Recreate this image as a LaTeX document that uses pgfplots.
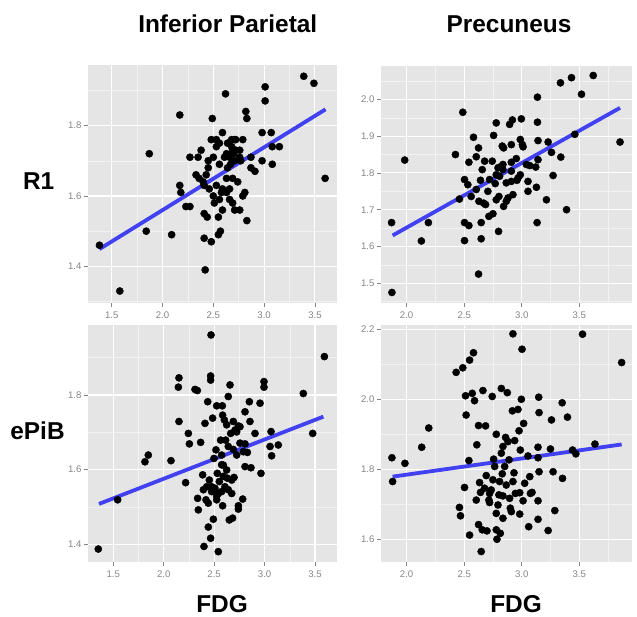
\documentclass[border=0pt]{standalone}
\usepackage{fontspec}
\setmainfont{Liberation Sans}
\usepackage{pgfplots}
\pgfplotsset{compat=1.18}

\definecolor{panelbg}{HTML}{E5E5E5}
\definecolor{minorgrid}{HTML}{F2F2F2}
\definecolor{tickgrey}{HTML}{858585}
\definecolor{fitblue}{HTML}{4141F2}

\pgfplotsset{
  panel/.style={
    scale only axis,
    anchor=south west,
    axis background/.style={fill=panelbg},
    axis line style={draw=none},
    grid=both,
    major grid style={white, line width=1.1pt},
    minor grid style={minorgrid, line width=0.5pt},
    tick align=outside,
    major tick length=4pt,
    minor tick length=0pt,
    xtick pos=bottom, ytick pos=left,
    tick style={tickgrey, line width=0.7pt},
    ticklabel style={font=\fontsize{9.6}{10}\selectfont, text=tickgrey},
    xticklabel style={yshift=-1pt},
    yticklabel style={xshift=1pt},
    /pgf/number format/fixed,
    /pgf/number format/fixed zerofill,
    /pgf/number format/precision=1,
    /pgf/number format/assume math mode=true,
  },
  dots/.style={only marks, mark=*, mark size=3.6pt, black},
  fit/.style={fitblue, line width=3.8pt, no marks},
}

\newcommand{\bigfont}{\fontsize{24.4}{28}\selectfont\bfseries}

\begin{document}
\begin{tikzpicture}[x=1pt,y=1pt]
\useasboundingbox (0,0) rectangle (637,617);

% top left: Inferior Parietal, R1
\begin{axis}[panel, at={(88pt,314pt)}, width=249pt, height=238pt,
  xmin=1.267, xmax=3.717, ymin=1.296, ymax=1.972,
  xtick={1.5,2,2.5,3,3.5}, minor xtick={1.75,2.25,2.75,3.25},
  ytick={1.4,1.6,1.8}, minor ytick={1.3,1.5,1.7,1.9}]
\addplot[dots] coordinates {
(1.38,1.46)(1.58,1.33)(1.84,1.50)(1.87,1.72)(2.09,1.49)(2.17,1.83)(2.17,1.63)
(2.18,1.61)(2.23,1.57)(2.27,1.57)(2.27,1.71)(2.33,1.66)(2.35,1.71)(2.38,1.73)
(2.36,1.65)(2.40,1.64)(2.41,1.63)(2.41,1.55)(2.44,1.54)(2.41,1.48)(2.42,1.39)
(2.45,1.70)(2.43,1.66)(2.46,1.62)(2.48,1.47)(2.48,1.76)(2.49,1.82)(2.50,1.71)
(2.50,1.60)(2.51,1.58)(2.53,1.63)(2.55,1.54)(2.55,1.49)(2.57,1.50)(2.53,1.76)
(2.56,1.75)(2.59,1.78)(2.62,1.89)(2.56,1.69)(2.58,1.61)(2.59,1.62)(2.61,1.71)
(2.63,1.72)(2.64,1.68)(2.63,1.61)(2.66,1.62)(2.68,1.76)(2.69,1.73)(2.71,1.70)
(2.68,1.74)(2.72,1.76)(2.69,1.58)(2.71,1.56)(2.76,1.56)(2.69,1.65)(2.74,1.64)
(2.76,1.73)(2.79,1.76)(2.77,1.70)(2.66,1.71)(2.76,1.71)(2.81,1.61)(2.79,1.60)
(2.82,1.84)(2.83,1.82)(2.83,1.53)(2.87,1.71)(2.87,1.68)(2.91,1.67)(2.98,1.78)
(2.98,1.70)(3.01,1.91)(3.01,1.87)(3.07,1.78)(3.08,1.74)(3.08,1.69)(3.15,1.74)
(3.39,1.94)(3.49,1.92)(3.60,1.65)(2.53,1.74)(2.45,1.68)(2.63,1.65)(2.56,1.59)
(2.59,1.56)(2.66,1.59)(2.71,1.76)(2.64,1.75)(2.72,1.73)(2.70,1.72)(2.67,1.69)
};
\addplot[fit] coordinates {(1.379,1.449)(3.604,1.846)};
\end{axis}

% top right: Precuneus, R1
\begin{axis}[panel, at={(381pt,314pt)}, width=251pt, height=237pt,
  xmin=1.777, xmax=3.959, ymin=1.4464, ymax=2.0908,
  xtick={2,2.5,3,3.5}, minor xtick={2.25,2.75,3.25,3.75},
  ytick={1.5,1.6,1.7,1.8,1.9,2.0}, minor ytick={1.45,1.55,1.65,1.75,1.85,1.95,2.05}]
\addplot[dots] coordinates {
(1.869,1.665)(1.872,1.475)(1.983,1.835)(2.128,1.615)(2.189,1.665)(2.424,1.850)
(2.459,1.729)(2.488,1.965)(2.503,1.782)(2.503,1.665)(2.503,1.616)(2.532,1.768)
(2.541,1.829)(2.541,1.657)(2.561,1.736)(2.581,1.897)(2.605,1.844)(2.605,1.755)
(2.625,1.868)(2.625,1.525)(2.628,1.723)(2.642,1.780)(2.648,1.665)(2.648,1.621)
(2.657,1.809)(2.669,1.718)(2.678,1.832)(2.686,1.714)(2.706,1.750)(2.715,1.682)
(2.744,1.832)(2.756,1.902)(2.750,1.689)(2.770,1.771)(2.779,1.936)(2.779,1.795)
(2.794,1.814)(2.799,1.641)(2.802,1.736)(2.808,1.791)(2.823,1.818)(2.831,1.873)
(2.837,1.823)(2.843,1.868)(2.843,1.709)(2.866,1.723)(2.881,1.732)(2.895,1.932)
(2.910,1.829)(2.910,1.877)(2.910,1.805)(2.910,1.777)(2.919,1.944)(2.924,1.741)
(2.953,1.839)(2.959,1.780)(2.968,1.786)(2.988,1.795)(2.988,1.891)(2.997,1.947)
(3.006,1.877)(3.012,1.871)(3.041,1.823)(3.055,1.777)(3.055,1.750)(3.070,1.820)
(3.122,1.816)(3.128,1.761)(3.134,1.665)(3.137,2.006)(3.137,1.938)(3.142,1.888)
(3.142,1.836)(3.215,1.727)(3.230,1.884)(3.259,1.856)(3.273,1.793)(3.337,2.045)
(3.340,1.843)(3.390,1.700)(3.433,2.059)(3.462,1.905)(3.520,2.014)(3.622,2.065)
(3.855,1.884)(2.837,1.809)(2.779,1.727)(2.721,1.782)(2.866,1.773)
};
\addplot[fit] coordinates {(1.878,1.630)(3.855,1.977)};
\end{axis}

% bottom left: Inferior Parietal, ePiB
\begin{axis}[panel, at={(88pt,55pt)}, width=249pt, height=237pt,
  xmin=1.249, xmax=3.718, ymin=1.3523, ymax=1.9877,
  xtick={1.5,2,2.5,3,3.5}, minor xtick={1.75,2.25,2.75,3.25},
  ytick={1.4,1.6,1.8}, minor ytick={1.5,1.7,1.9}]
\addplot[dots] coordinates {
(1.351,1.387)(1.543,1.519)(1.814,1.621)(1.847,1.639)(2.072,1.624)(2.151,1.846)
(2.145,1.821)(2.151,1.729)(2.217,1.565)(2.244,1.697)(2.254,1.669)(2.310,1.815)
(2.333,1.812)(2.336,1.523)(2.343,1.492)(2.366,1.673)(2.386,1.586)(2.393,1.546)
(2.399,1.394)(2.409,1.724)(2.419,1.519)(2.426,1.554)(2.436,1.782)(2.442,1.510)
(2.442,1.446)(2.452,1.572)(2.465,1.416)(2.469,1.961)(2.465,1.851)(2.465,1.840)
(2.475,1.554)(2.485,1.738)(2.492,1.467)(2.498,1.630)(2.508,1.550)(2.518,1.653)
(2.525,1.771)(2.525,1.529)(2.531,1.590)(2.541,1.536)(2.541,1.380)(2.551,1.568)
(2.564,1.679)(2.574,1.639)(2.574,1.613)(2.574,1.541)(2.581,1.771)(2.584,1.746)
(2.584,1.503)(2.591,1.612)(2.601,1.733)(2.607,1.554)(2.614,1.679)(2.624,1.720)
(2.624,1.599)(2.631,1.577)(2.640,1.796)(2.640,1.546)(2.650,1.465)(2.657,1.827)
(2.664,1.697)(2.674,1.572)(2.674,1.536)(2.683,1.470)(2.690,1.729)(2.690,1.654)
(2.697,1.579)(2.707,1.706)(2.723,1.639)(2.723,1.701)(2.740,1.717)(2.740,1.503)
(2.740,1.494)(2.756,1.715)(2.756,1.671)(2.783,1.521)(2.789,1.648)(2.806,1.755)
(2.806,1.669)(2.806,1.608)(2.829,1.646)(2.849,1.782)(2.855,1.729)(2.865,1.605)
(2.905,1.697)(2.955,1.778)(2.964,1.590)(2.994,1.836)(2.994,1.821)(3.054,1.662)
(3.064,1.702)(3.070,1.637)(3.136,1.666)(3.384,1.804)(3.477,1.697)(3.593,1.903)
(2.525,1.519)(2.475,1.541)(2.591,1.582)(2.640,1.662)
};
\addplot[fit] coordinates {(1.358,1.508)(3.583,1.742)};
\end{axis}

% bottom right: Precuneus, ePiB
\begin{axis}[panel, at={(381pt,55pt)}, width=251pt, height=237pt,
  xmin=1.777, xmax=3.959, ymin=1.5351, ymax=2.2123,
  xtick={2,2.5,3,3.5}, minor xtick={2.25,2.75,3.25,3.75},
  ytick={1.6,1.8,2.0,2.2}, minor ytick={1.7,1.9,2.1}]
\addplot[dots] coordinates {
(1.872,1.833)(1.878,1.765)(1.985,1.817)(2.131,1.863)(2.192,1.918)(2.430,2.077)
(2.459,1.691)(2.468,1.667)(2.488,2.090)(2.503,1.748)(2.512,2.010)(2.517,1.955)
(2.541,1.825)(2.547,1.612)(2.547,2.112)(2.570,2.017)(2.581,2.133)(2.590,1.996)
(2.605,1.712)(2.610,1.870)(2.625,1.925)(2.625,1.642)(2.634,1.762)(2.642,1.734)
(2.648,1.565)(2.657,1.627)(2.663,2.025)(2.677,1.746)(2.686,1.924)(2.692,1.782)
(2.698,1.624)(2.715,1.712)(2.721,1.705)(2.735,1.741)(2.744,2.008)(2.750,1.770)
(2.756,1.829)(2.765,1.808)(2.779,1.900)(2.779,1.627)(2.785,1.600)(2.794,1.698)
(2.802,1.727)(2.808,1.765)(2.814,1.617)(2.823,2.031)(2.823,1.846)(2.831,1.787)
(2.837,1.724)(2.837,1.865)(2.852,1.808)(2.860,1.891)(2.866,1.755)(2.875,2.019)
(2.881,1.879)(2.890,1.827)(2.895,1.717)(2.901,1.689)(2.910,1.679)(2.919,1.967)
(2.924,2.187)(2.924,1.765)(2.933,1.790)(2.939,1.882)(2.945,1.731)(2.968,1.971)
(2.977,1.910)(2.983,1.733)(2.983,1.672)(2.988,1.855)(2.997,2.000)(3.003,2.143)
(3.012,1.710)(3.017,1.931)(3.026,1.760)(3.055,1.838)(3.061,1.636)(3.070,1.779)
(3.076,1.731)(3.090,1.734)(3.142,1.710)(3.142,1.657)(3.142,1.863)(3.142,1.833)
(3.148,2.006)(3.151,1.962)(3.151,1.793)(3.230,1.625)(3.250,1.858)(3.259,1.941)
(3.273,1.793)(3.288,1.682)(3.352,1.990)(3.355,1.774)(3.398,1.949)(3.442,1.855)
(3.471,1.844)(3.529,2.186)(3.637,1.872)(3.869,2.105)(2.779,1.674)(2.837,1.660)
(2.721,1.731)
};
\addplot[fit] coordinates {(1.878,1.779)(3.869,1.871)};
\end{axis}

% titles and labels
\node[anchor=base, font=\bigfont] at (227.8,584.3) {Inferior Parietal};
\node[anchor=base, font=\bigfont] at (509,584.7) {Precuneus};
\node[anchor=base, font=\bigfont] at (38.7,427) {R1};
\node[anchor=base, font=\bigfont] at (37.5,177) {ePiB};
\node[anchor=base, font=\bigfont] at (222,4.5) {FDG};
\node[anchor=base, font=\bigfont] at (516,4.5) {FDG};
\end{tikzpicture}
\end{document}
